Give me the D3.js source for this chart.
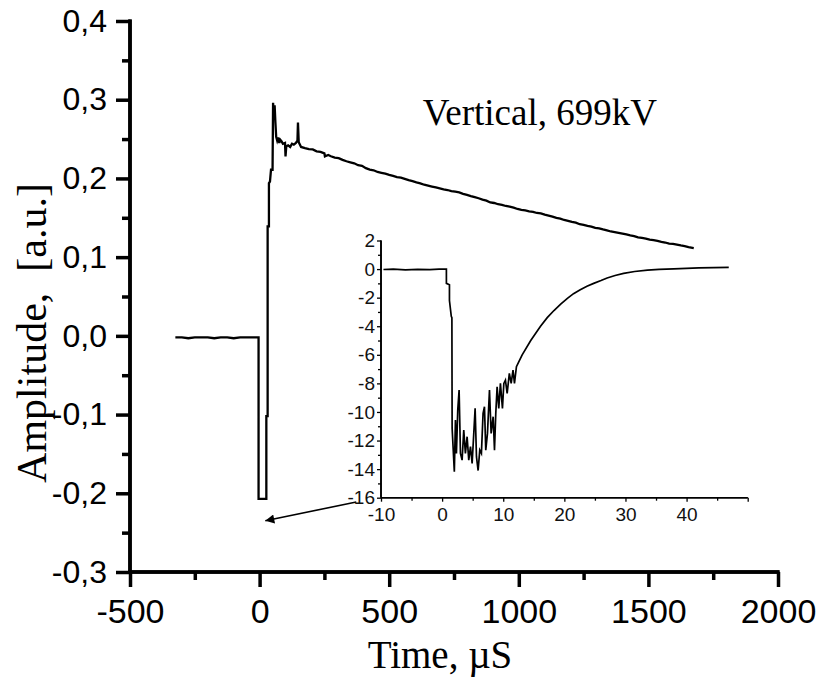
<!DOCTYPE html>
<html>
<head>
<meta charset="utf-8">
<script src="https://cdn.jsdelivr.net/npm/d3@7"></script>
<style>
  html, body { margin: 0; padding: 0; background: #fff; }
  svg { display: block; }
</style>
</head>
<body>
<svg id="chart" width="833" height="686"></svg>
<script>
// ---------------- DATA ----------------
// Main trace: time (µs) and amplitude (a.u.)
const mainTime = [
  -325,-300,-275,-250,-225,-200,-175,-150,-125,-100,-75,-50,-25,-4,
  -4,26,26,31,31,36,36,40,44,50,52,55,58,61,64,68,72,76,80,85,90,98,100,103,110,118,125,132,140,146,148,151,
  160,175,190,205,220,235,250,252,265,275,290,305,320,335,350,365,380,395,410,425,440,455,470,485,
  500,515,530,545,560,575,590,605,620,635,650,665,680,695,710,725,740,755,770,785,
  800,815,830,845,860,875,890,905,920,935,950,965,980,995,1010,1025,1040,1055,1070,1085,
  1100,1115,1130,1145,1160,1175,1190,1205,1220,1235,1250,1265,1280,1295,1310,1325,1340,1355,1370,1385,
  1400,1415,1430,1445,1460,1475,1490,1505,1520,1535,1550,1565,1580,1595,1610,1625,1640,1655,1670,1675
];
const mainAmp = [
  -0.002,-0.002,-0.003,-0.002,-0.002,-0.002,-0.003,-0.002,-0.002,-0.003,-0.002,-0.002,-0.002,-0.002,
  -0.207,-0.207,-0.102,-0.102,0.139,0.139,0.194,0.196,0.211,0.211,0.296,0.280,0.293,0.271,0.253,0.248,0.252,0.245,0.249,0.247,0.244,0.245,0.228,0.241,0.242,0.240,0.244,0.243,0.245,0.248,0.271,0.246,
  0.2400,0.2385,0.2372,0.2368,0.2345,0.2338,0.2318,0.2280,0.2297,0.2282,0.2265,0.2258,0.2236,0.2218,0.2205,0.2192,0.2168,0.2160,0.2131,0.2112,0.2104,0.2082,0.2071,0.2060,
  0.2045,0.2032,0.2018,0.2010,0.1994,0.1978,0.1965,0.1950,0.1938,0.1920,0.1908,0.1897,0.1885,0.1874,0.1862,0.1853,0.1840,0.1831,0.1822,0.1805,
  0.1792,0.1776,0.1762,0.1748,0.1731,0.1718,0.1695,0.1688,0.1672,0.1665,0.1650,0.1642,0.1628,0.1612,0.1600,0.1593,0.1582,0.1576,0.1561,0.1555,
  0.1540,0.1527,0.1515,0.1498,0.1490,0.1472,0.1462,0.1448,0.1438,0.1418,0.1410,0.1396,0.1388,0.1372,0.1366,0.1352,0.1340,0.1326,0.1318,0.1308,
  0.1298,0.1288,0.1276,0.1268,0.1252,0.1244,0.1235,0.1222,0.1216,0.1206,0.1194,0.1186,0.1172,0.1168,0.1158,0.1148,0.1140,0.1128,0.1118,0.1115
];

// Inset trace: time (µs) and amplitude
const insetTime = [
  -9.6,-8,-6,-4,-2,-0.5,0.7,0.7,1.2,1.2,1.5,1.6,1.64,2.0,2.18,2.34,2.56,2.78,3.0,3.27,3.54,3.81,4.09,4.36,4.64,4.91,5.18,5.4,5.62,5.89,
  6.16,6.43,6.7,6.93,7.14,7.42,7.75,8.02,8.35,8.57,8.78,9.0,9.27,9.54,9.87,10.1,10.36,10.64,11.0,11.3,11.6,11.84,12.16,12.54,
  13.1,14.5,16.1,17.2,18.3,19.4,20.5,21.5,22.6,23.7,24.8,26.0,27.0,28.3,29.7,31.5,33.6,35.5,37.9,42,46.9
];
const insetAmp = [
  -0.03,0.0,-0.05,-0.02,-0.04,0.0,0.0,-1.0,-1.1,-2.2,-3.3,-3.4,-11.15,-14.18,-10.57,-12.9,-9.87,-8.47,-12.9,-13.37,-11.27,-12.9,-11.73,-13.37,-12.43,-13.6,-11.5,-9.75,-13.13,-14.1,
  -12.67,-12.9,-10.1,-9.63,-12.67,-11.5,-8.47,-11.5,-10.33,-12.67,-10.1,-8.24,-9.75,-8.0,-9.75,-8.0,-7.77,-8.7,-7.3,-8.0,-7.07,-8.0,-6.83,-6.5,
  -6.0,-5.0,-4.0,-3.4,-2.9,-2.45,-2.05,-1.72,-1.45,-1.2,-1.0,-0.8,-0.62,-0.45,-0.3,-0.17,-0.07,-0.02,0.02,0.08,0.12
];

// Tick values & labels
const mainXTicks = [-500, 0, 500, 1000, 1500, 2000];
const mainXMinor = [-250, 250, 750, 1250, 1750];
const mainYTicks = [-0.3, -0.2, -0.1, 0.0, 0.1, 0.2, 0.3, 0.4];
const mainYMinor = [-0.25, -0.15, -0.05, 0.05, 0.15, 0.25, 0.35];
const insetXTicks = [-10, 0, 10, 20, 30, 40, 50];
const insetXLabels = [-10, 0, 10, 20, 30, 40];
const insetXMinor = [-5, 5, 15, 25, 35, 45];
const insetYTicks = [-16, -14, -12, -10, -8, -6, -4, -2, 0, 2];
const insetYMinor = [-15, -13, -11, -9, -7, -5, -3, -1, 1];

const xTitle = "Time, \u00B5S";
const yTitle = "Amplitude,  [a.u.]";
const annotation = "Vertical, 699kV";
// annotation anchor and arrow, in main data coordinates
const annotationPos = [629, 0.268];
const arrowFrom = [373, -0.211];
const arrowTo = [22, -0.235];

// ---------------- DRAW ----------------
const svg = d3.select("#chart");
const sans = "Arial, 'Liberation Sans', sans-serif";
const serif = "'Times New Roman', 'Liberation Serif', serif";

const x = d3.scaleLinear().domain([-500, 2000]).range([130, 778]);
const y = d3.scaleLinear().domain([-0.3, 0.4]).range([572, 21]);

const hy = s => s.replace("\u2212", "-");
const fmtComma = d => hy(d3.format(".1f")(d)).replace(".", ",");
const fmtInt = d => hy(d3.format("d")(d));

// main x axis
const gx = svg.append("g").attr("transform", `translate(0,${y(-0.3)})`);
gx.call(d3.axisBottom(x).tickValues(mainXTicks).tickSize(15).tickPadding(12).tickFormat(fmtInt));
gx.append("g").call(d3.axisBottom(x).tickValues(mainXMinor).tickSize(8).tickFormat(""));
gx.selectAll("path.domain").attr("stroke-width", 3.5).attr("d", `M${x(-500) - 1.5},0H${x(2000) + 1.5}`);
gx.selectAll(".tick line").attr("stroke-width", 3.5);
gx.selectAll("text").attr("font-family", sans).attr("font-size", 34).attr("fill", "#000");

// main y axis
const gy = svg.append("g").attr("transform", `translate(${x(-500)},0)`);
gy.call(d3.axisLeft(y).tickValues(mainYTicks).tickSize(14).tickPadding(9).tickFormat(fmtComma));
gy.append("g").call(d3.axisLeft(y).tickValues(mainYMinor).tickSize(8).tickFormat(""));
gy.selectAll("path.domain").attr("stroke-width", 3.5).attr("d", `M0,${y(-0.3) + 1.5}V${y(0.4) - 1.5}`);
gy.selectAll(".tick line").attr("stroke-width", 3.5);
gy.selectAll("text").attr("font-family", sans).attr("font-size", 32).attr("fill", "#000");

// main line
const mainData = mainTime.map((t, i) => [t, mainAmp[i]]);
svg.append("path")
  .datum(mainData)
  .attr("fill", "none")
  .attr("stroke", "#000")
  .attr("stroke-width", 2.3)
  .attr("stroke-linejoin", "miter")
  .attr("d", d3.line().x(d => x(d[0])).y(d => y(d[1])));

// titles
svg.append("text")
  .attr("x", 440)
  .attr("y", 668)
  .attr("text-anchor", "middle")
  .attr("font-family", serif)
  .attr("font-size", 39)
  .text(xTitle);

svg.append("text")
  .attr("transform", `translate(46,333) rotate(-90)`)
  .attr("text-anchor", "middle")
  .attr("font-family", serif)
  .attr("font-size", 42)
  .style("white-space", "pre")
  .text(yTitle);

svg.append("text")
  .attr("x", x(annotationPos[0]))
  .attr("y", y(annotationPos[1]))
  .attr("font-family", serif)
  .attr("font-size", 37)
  .text(annotation);

// arrow
const defs = svg.append("defs");
defs.append("marker")
  .attr("id", "arrowhead")
  .attr("viewBox", "0 0 10 10")
  .attr("refX", 10).attr("refY", 5)
  .attr("markerWidth", 20).attr("markerHeight", 9)
  .attr("markerUnits", "userSpaceOnUse")
  .attr("orient", "auto")
  .append("path").attr("d", "M0,0L10,5L0,10Z").attr("fill", "#000");
svg.append("line")
  .attr("x1", x(arrowFrom[0])).attr("y1", y(arrowFrom[1]))
  .attr("x2", x(arrowTo[0])).attr("y2", y(arrowTo[1]))
  .attr("stroke", "#000").attr("stroke-width", 1.6)
  .attr("marker-end", "url(#arrowhead)");

// ---------------- INSET ----------------
const ix = d3.scaleLinear().domain([-10, 50]).range([381, 747.7]);
const iy = d3.scaleLinear().domain([-16, 2]).range([497.7, 240.5]);
const insetColor = "#111";

const igx = svg.append("g").attr("transform", `translate(0,${iy(-16)})`);
igx.call(d3.axisBottom(ix).tickValues(insetXTicks).tickSize(4).tickPadding(6)
  .tickFormat(d => insetXLabels.includes(d) ? fmtInt(d) : ""));
igx.append("g").call(d3.axisBottom(ix).tickValues(insetXMinor).tickSize(3).tickFormat(""));
igx.selectAll("path.domain").attr("stroke-width", 1.6).attr("d", `M${ix(-10)},0H${ix(50)}`);
igx.selectAll(".tick line").attr("stroke-width", 1.3);
igx.selectAll("text").attr("font-family", sans).attr("font-size", 19).attr("fill", insetColor);

const igy = svg.append("g").attr("transform", `translate(${ix(-10)},0)`);
igy.call(d3.axisLeft(iy).tickValues(insetYTicks).tickSize(4).tickPadding(2).tickFormat(fmtInt));
igy.append("g").call(d3.axisLeft(iy).tickValues(insetYMinor).tickSize(3).tickFormat(""));
igy.selectAll("path.domain").attr("stroke-width", 1.6).attr("d", `M0,${iy(-16)}V${iy(2)}`);
igy.selectAll(".tick line").attr("stroke-width", 1.3);
igy.selectAll("text").attr("font-family", sans).attr("font-size", 19).attr("fill", insetColor);

const insetData = insetTime.map((t, i) => [t, insetAmp[i]]);
svg.append("path")
  .datum(insetData)
  .attr("fill", "none")
  .attr("stroke", "#000")
  .attr("stroke-width", 1.7)
  .attr("d", d3.line().x(d => ix(d[0])).y(d => iy(d[1])));
</script>
</body>
</html>
